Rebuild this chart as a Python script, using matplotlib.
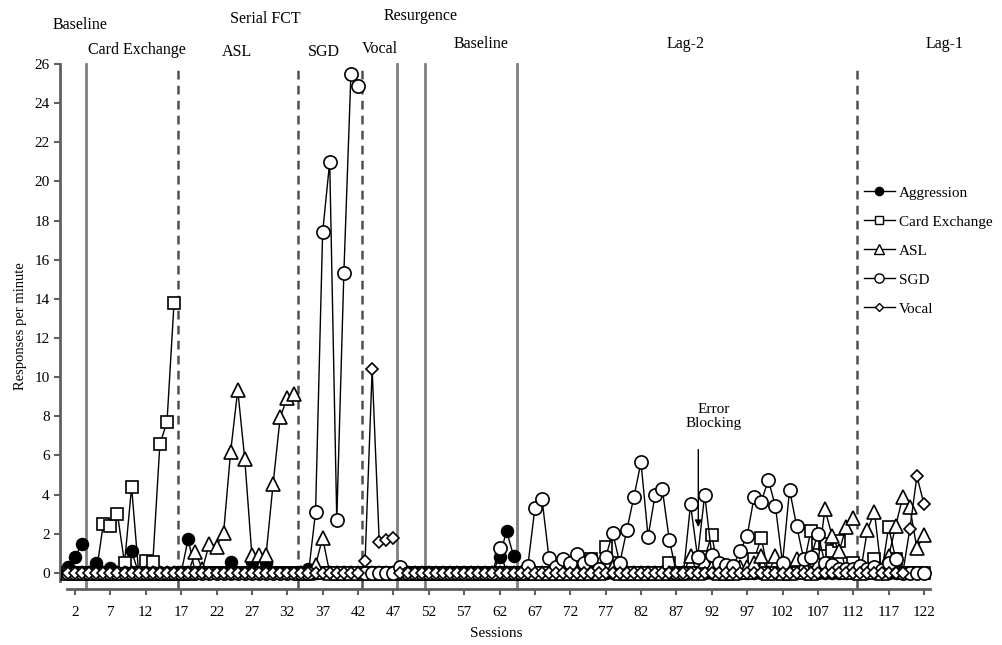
import numpy as np
import matplotlib
matplotlib.use("Agg")
import matplotlib.pyplot as plt

plt.rcParams['font.family'] = ['Liberation Serif', 'DejaVu Serif']

sessions = np.arange(1, 123)

# responses per minute, one value per session (1..122)
aggression = [
    0.3, 0.8, 1.5, 0, 0.5, 0, 0.25, 0, 0, 1.1,
    0, 0, 0, 0, 0, 0, 0, 1.75, 0, 0,
    0, 0, 0, 0.55, 0, 0, 0.55, 0, 0.5, 0,
    0, 0, 0, 0, 0.2, 0, 0, 0, 0, 0,
    0, 0, 0, 0, 0, 0, 0, 0, 0, 0,
    0, 0, 0, 0, 0, 0, 0, 0, 0, 0,
    0, 0.8, 2.15, 0.85, 0, 0, 0, 0, 0, 0,
    0, 0, 0, 0, 0, 0, 0, 0, 0, 0,
    0, 0, 0, 0, 0, 0, 0, 0, 0, 0,
    0, 0, 0, 0, 0, 0, 0, 0, 0, 0,
    0, 0, 0, 0, 0, 0, 0, 0, 0, 0,
    0, 0, 0, 0, 0, 0, 0, 0, 0, 0,
    0, 0]
card_exchange = [
    0, 0, 0, 0, 0, 2.5, 2.4, 3.0, 0.5, 4.4,
    0, 0.6, 0.55, 6.6, 7.7, 13.8, 0, 0, 0, 0,
    0, 0, 0, 0, 0, 0, 0, 0, 0, 0,
    0, 0, 0, 0, 0, 0, 0, 0, 0, 0,
    0, 0, 0, 0, 0, 0, 0, 0, 0, 0,
    0, 0, 0, 0, 0, 0, 0, 0, 0, 0,
    0, 0, 0, 0, 0, 0, 0, 0, 0, 0,
    0, 0, 0, 0, 0.7, 0, 1.35, 0.5, 0, 0,
    0, 0, 0, 0, 0, 0.5, 0, 0, 0, 0,
    0.8, 1.95, 0, 0, 0, 0, 0, 0.7, 1.8, 0,
    0, 0, 0, 0, 0.4, 2.15, 1.55, 1.5, 1.1, 1.65,
    0, 0.5, 0, 0, 0.7, 0, 2.35, 0.7, 0, 0,
    0, 0]
asl = [
    0, 0, 0, 0, 0, 0, 0, 0, 0, 0,
    0, 0, 0, 0, 0, 0, 0, 0, 1.05, 0.2,
    1.5, 1.35, 2.05, 6.2, 9.35, 5.8, 0.9, 0.9, 0.9, 4.55,
    7.95, 8.95, 9.15, 0, 0, 0.4, 1.8, 0, 0, 0,
    0, 0, 0, 0, 0, 0, 0, 0, 0, 0,
    0, 0, 0, 0, 0, 0, 0, 0, 0, 0,
    0, 0, 0, 0, 0, 0, 0, 0, 0, 0,
    0, 0, 0, 0, 0, 0, 0.5, 0.3, 0, 0,
    0, 0, 0, 0, 0, 0, 0, 0, 0.85, 0,
    0.6, 0.3, 0, 0, 0, 0.3, 0.3, 0.5, 0.85, 0,
    0.85, 0, 0, 0.7, 0.4, 0, 0.5, 3.25, 1.9, 1.1,
    2.35, 2.8, 0, 2.2, 3.1, 0, 0.85, 2.4, 3.9, 3.35,
    1.25, 1.95]
sgd = [
    0, 0, 0, 0, 0, 0, 0, 0, 0, 0,
    0, 0, 0, 0, 0, 0, 0, 0, 0, 0,
    0, 0, 0, 0, 0, 0, 0, 0, 0, 0,
    0, 0, 0, 0, 0, 3.1, 17.4, 21.0, 2.7, 15.3,
    25.5, 24.9, 0, 0, 0, 0, 0, 0.3, 0, 0,
    0, 0, 0, 0, 0, 0, 0, 0, 0, 0,
    0, 1.3, 0, 0, 0, 0.35, 3.3, 3.8, 0.75, 0.3,
    0.7, 0.5, 0.95, 0.5, 0.7, 0.2, 0.8, 2.05, 0.5, 2.2,
    3.9, 5.65, 1.85, 4.0, 4.3, 1.7, 0, 0, 3.5, 0.8,
    4.0, 0.9, 0.5, 0.4, 0.35, 1.1, 1.9, 3.9, 3.65, 4.75,
    3.4, 0.5, 4.25, 2.4, 0.7, 0.8, 2.0, 0.5, 0.4, 0.2,
    0.2, 0.2, 0.35, 0.2, 0.3, 0.15, 0.5, 0.7, 0, 0,
    0, 0]
vocal = [
    0, 0, 0, 0, 0, 0, 0, 0, 0, 0,
    0, 0, 0, 0, 0, 0, 0, 0, 0, 0,
    0, 0, 0, 0, 0, 0, 0, 0, 0, 0,
    0, 0, 0, 0, 0, 0, 0, 0, 0, 0,
    0, 0, 0.6, 10.4, 1.6, 1.7, 1.8, 0, 0, 0,
    0, 0, 0, 0, 0, 0, 0, 0, 0, 0,
    0, 0, 0, 0, 0, 0, 0, 0, 0, 0,
    0, 0, 0, 0, 0, 0, 0, 0, 0, 0,
    0, 0, 0, 0, 0, 0, 0, 0, 0, 0,
    0, 0, 0, 0, 0, 0, 0, 0, 0, 0,
    0, 0, 0, 0, 0, 0, 0, 0, 0, 0,
    0, 0, 0, 0, 0, 0, 0, 0, 0, 2.25,
    4.95, 3.5]

# phase change lines (between sessions)
solid_lines = [3.5, 47.5, 51.5, 64.5]
dashed_lines = [16.5, 33.5, 42.5, 112.5]
breaks = sorted(solid_lines + dashed_lines)

series = [
    ("Aggression", aggression, dict(marker='o', ms=8.5, mfc='black')),
    ("Card Exchange", card_exchange, dict(marker='s', ms=9, mfc='white')),
    ("ASL", asl, dict(marker='^', ms=9.5, mfc='white')),
    ("SGD", sgd, dict(marker='o', ms=9.5, mfc='white')),
    ("Vocal", vocal, dict(marker='D', ms=6.5, mfc='white')),
]

fig = plt.figure(figsize=(10.03, 6.45), dpi=100)
ax = fig.add_axes([60/1003, 1-589/645, 872/1003, 525/645])
ax.set_xlim(-0.12, 123.13)
ax.set_ylim(-0.82, 26)

edges = [0.5] + breaks + [122.5]
for name, vals, st in series:
    vals = np.array(vals, dtype=float)
    for a, b in zip(edges[:-1], edges[1:]):
        m = (sessions > a) & (sessions < b)
        ax.plot(sessions[m], vals[m], color='black', lw=1.0, mec='black',
                mew=1.2, zorder=3, **st)

for x in solid_lines:
    ax.axvline(x, ymin=0, ymax=1, color='#808080', lw=2, zorder=1, clip_on=False)
for x in dashed_lines:
    ax.axvline(x, ymin=0, ymax=1, color='#505050', lw=1.8, ls=(0, (3.5, 2.5)),
               zorder=1, clip_on=False)

ax.spines['top'].set_visible(False)
ax.spines['right'].set_visible(False)
ax.spines['left'].set_bounds(-0.4, 26)
ax.spines['bottom'].set_bounds(0.87, 122.9)
for sp in ('left', 'bottom'):
    ax.spines[sp].set_color('#606060')
    ax.spines[sp].set_linewidth(2)

ax.set_yticks(np.arange(0, 27, 2))
ax.set_xticks(np.arange(2, 123, 5))
ax.tick_params(axis='both', labelsize=11, length=4, color='#606060', width=1.5)
ax.tick_params(axis='x', pad=8)
ax.set_xlabel("Sessions", fontsize=11, labelpad=6)
ax.set_ylabel("Responses per minute", fontsize=10.5, labelpad=5)

# phase labels
labels = [
    ("Baseline", 80, 25), ("Serial FCT", 265, 19), ("Resurgence", 421, 16),
    ("Card Exchange", 137, 50), ("ASL", 237, 52), ("SGD", 324, 52),
    ("Vocal", 380, 49), ("Baseline", 481, 44), ("Lag-2", 686, 44),
    ("Lag-1", 945, 44),
]
for txt, px, py in labels:
    fig.text(px/1003, 1-py/645, txt, ha='center', va='center', fontsize=11.5)

ax.text(92.3, 8.0, "Error\nBlocking", ha='center', va='center', fontsize=11,
        linespacing=1.1)
ax.annotate('', xy=(90.1, 2.2), xytext=(90.1, 6.45),
            arrowprops=dict(arrowstyle='-|>', color='black', lw=1,
                            mutation_scale=10))

handles = [plt.Line2D([], [], color='black', lw=1, mec='black', mew=1,
                      **dict(st, ms=st['ms']*0.7)) for _, _, st in series]
fig.legend(handles, [s[0] for s in series], loc='upper left',
           bbox_to_anchor=(858/1003, 1-180/645), frameon=False, fontsize=11,
           handlelength=2, handletextpad=0.3, labelspacing=1.0, borderaxespad=0)

fig.savefig("out.png", dpi=100)
